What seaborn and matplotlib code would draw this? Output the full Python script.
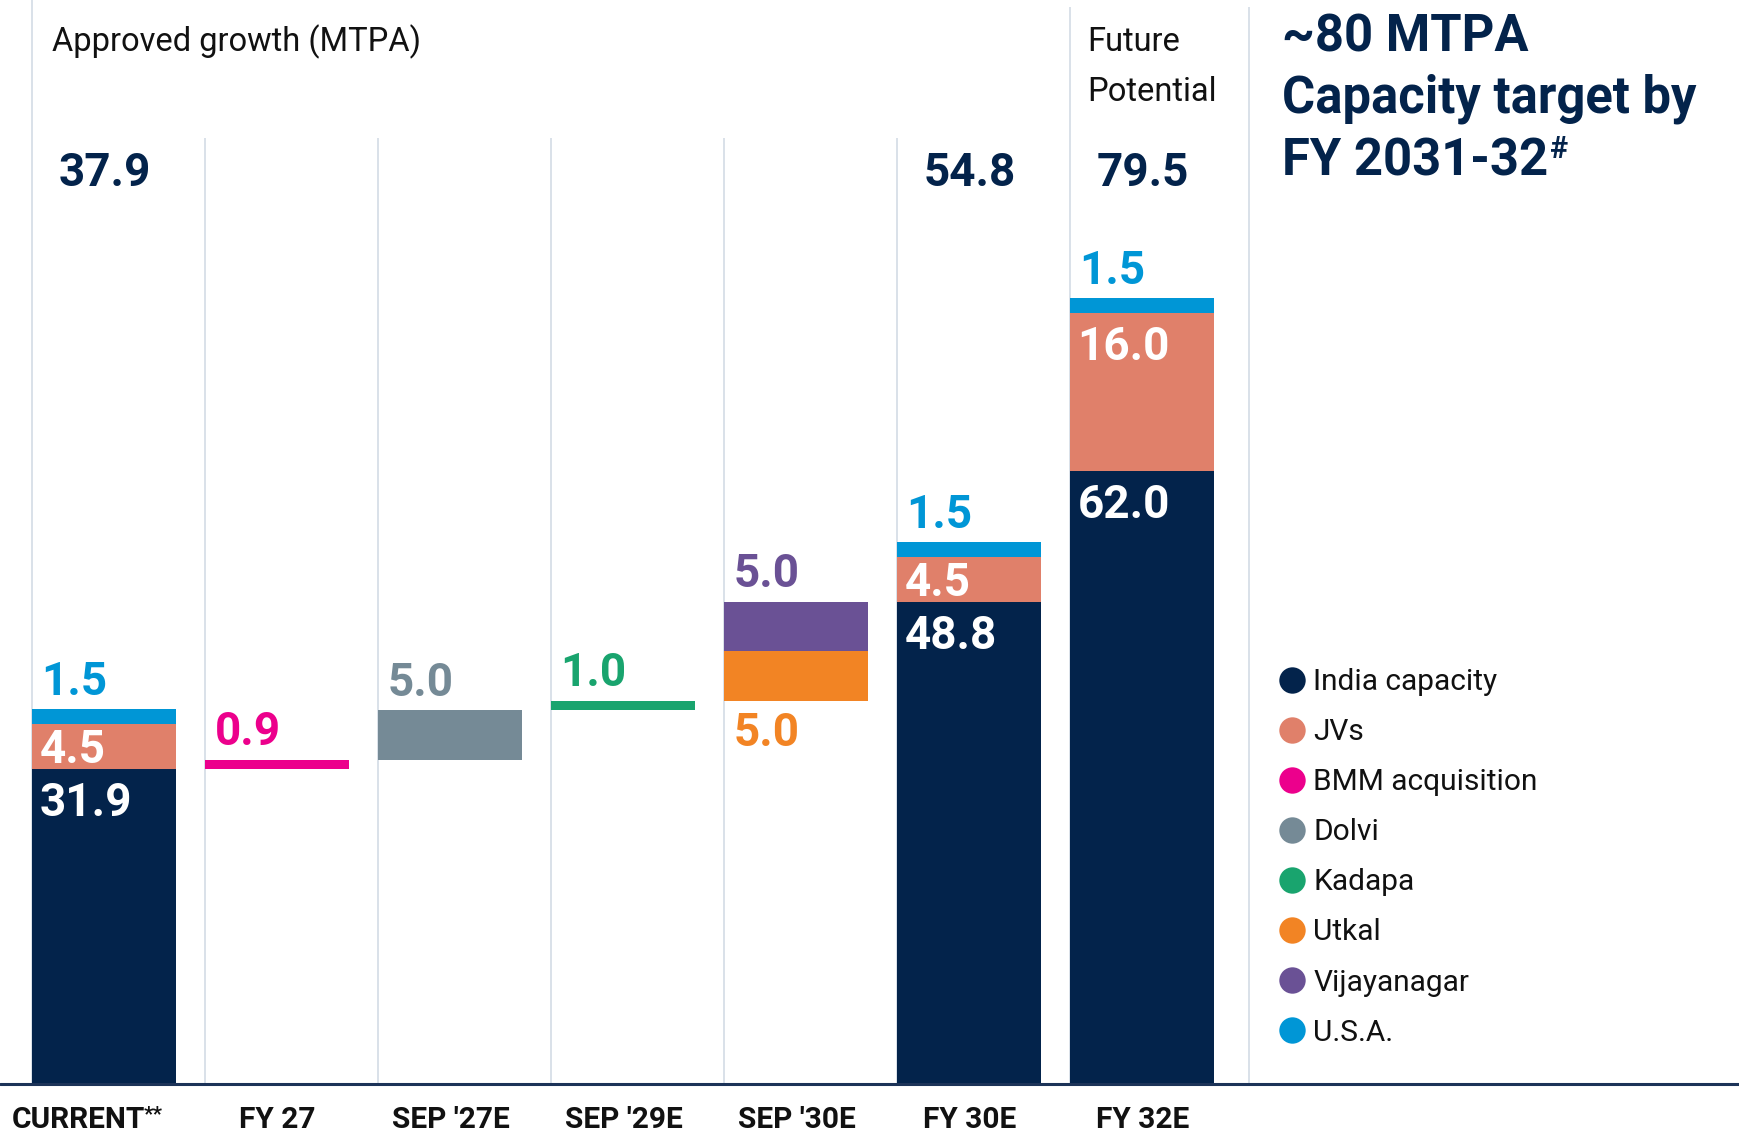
import matplotlib
matplotlib.use("Agg")
import matplotlib.pyplot as plt
import matplotlib.transforms as mtransforms
from matplotlib.lines import Line2D
import seaborn as sns
import pandas as pd

# values in MTPA
periods = ["CURRENT", "FY 27", "SEP '27E", "SEP '29E", "SEP '30E", "FY 30E", "FY 32E"]
segments = ["India capacity", "JVs", "BMM acquisition", "Dolvi", "Kadapa",
            "Utkal", "Vijayanagar", "U.S.A."]
seg_colors = ["#03234b", "#e0806a", "#ec008c", "#758a96", "#19a46e",
              "#f28424", "#6a5195", "#0096d6"]

india_capacity = [31.9, 0, 0, 0, 0, 48.8, 62.0]
jvs = [4.5, 0, 0, 0, 0, 4.5, 16.0]
bmm_acquisition = [0, 0.9, 0, 0, 0, 0, 0]
dolvi = [0, 0, 5.0, 0, 0, 0, 0]
kadapa = [0, 0, 0, 1.0, 0, 0, 0]
utkal = [0, 0, 0, 0, 5.0, 0, 0]
vijayanagar = [0, 0, 0, 0, 5.0, 0, 0]
usa = [1.5, 0, 0, 0, 0, 1.5, 1.5]

NAVY = "#03234b"
GRID = "#d3dce5"
BAR_W = 0.832
YMAX = 109.7

sns.set_style("white")
plt.rcParams["font.family"] = ["Roboto", "DejaVu Sans"]

# long table; growth steps sit on the running India level (waterfall)
series = [india_capacity, jvs, bmm_acquisition, dolvi, kadapa, utkal, vijayanagar, usa]
rows = []
level = india_capacity[0]
for i, p in enumerate(periods):
    stacked = india_capacity[i] > 0
    base = 0.0 if stacked else level
    for seg, vals in zip(segments, series):
        rows.append({"period": p, "segment": seg, "value": vals[i], "bottom": base})
        base += vals[i]
    if not stacked:
        level = base
df = pd.DataFrame(rows)

fig = plt.figure(figsize=(17.39, 11.36), dpi=100)
ax = fig.add_axes([0, 52 / 1136, 1, 1084 / 1136])

for seg, col in zip(segments, seg_colors):
    sub = df[df["segment"] == seg]
    sns.barplot(data=sub, x="period", y="value", order=periods, color=col,
                width=BAR_W, saturation=1, errorbar=None,
                bottom=sub["bottom"].to_numpy(), linewidth=0, ax=ax, zorder=2)

# column separators
seps = [k - BAR_W / 2 for k in range(len(periods))] + [len(periods) + 0.03 - BAR_W / 2]
tops = [YMAX] + [95.7] * 5 + [109.0, 109.0]
ax.vlines(seps, 0, tops, color=GRID, lw=1.2, zorder=1)
ax.axhline(0, color="#1c3358", lw=2.2, clip_on=False, zorder=3)

ax.set_xlim(-0.6036, 9.448)
ax.set_ylim(0, YMAX)
ax.set_xlabel("")
ax.set_ylabel("")
ax.set_yticks([])
ax.tick_params(axis="x", length=0, pad=16)
ax.set_xticks(range(len(periods)), labels=periods, fontsize=21.5,
              fontweight="bold", color="#111111")
for s in ax.spines.values():
    s.set_visible(False)

# CURRENT label sits left of centre, with a superscript **
cur = ax.get_xticklabels()[0]
cur.set_transform(cur.get_transform()
                  + mtransforms.ScaledTranslation(-0.26, 0, fig.dpi_scale_trans))
ax.annotate("**", xy=(1, 1), xycoords=cur, xytext=(-1, 1), textcoords="offset points",
            ha="left", va="top", fontsize=15, fontweight="bold", color="#111111")

# segment value labels
for i, p in enumerate(periods):
    left = i - BAR_W / 2
    for seg, col in zip(segments, seg_colors):
        r = df[(df["period"] == p) & (df["segment"] == seg)].iloc[0]
        v, bottom = r["value"], r["bottom"]
        if v == 0:
            continue
        top = bottom + v
        if seg in ("India capacity", "JVs"):
            y, tc, dx = top - min(4.76, v / 2 + 1.62), "white", 5
        elif seg == "Utkal":
            y, tc, dx = bottom - 4.55, col, 6.5
        else:
            y, tc, dx = top + 1.5, col, 6.5
        ax.annotate(f"{v:.1f}", xy=(left, y), xytext=(dx, 0), textcoords="offset points",
                    ha="left", va="baseline", color=tc, fontsize=33, fontweight="bold",
                    zorder=4)

# totals above stacked columns
tot = df.groupby("period", sort=False)["value"].sum()
for i, p in enumerate(periods):
    if india_capacity[i] > 0:
        ax.text(i, 90.9, f"{tot[p]:.1f}", ha="center", va="baseline", color=NAVY,
                fontsize=33, fontweight="bold")

# headers
def fy(px):
    return 1 - px / 1136

fig.text(52 / 1739, fy(51), "Approved growth (MTPA)", fontsize=23.5, color="#111111",
         va="baseline")
fig.text(1087 / 1739, fy(51), "Future", fontsize=23.5, color="#111111", va="baseline")
fig.text(1087 / 1739, fy(101), "Potential", fontsize=23.5, color="#111111", va="baseline")

for txt, b in [("~80 MTPA", 51), ("Capacity target by", 113), ("FY 2031-32", 176)]:
    t = fig.text(1282 / 1739, fy(b), txt, fontsize=36.5, fontweight="bold", color=NAVY,
                 va="baseline")
ax.annotate("#", xy=(1, 1), xycoords=t, xytext=(1, 2), textcoords="offset points",
            ha="left", va="top", fontsize=22, fontweight="bold", color=NAVY)

handles = [Line2D([], [], marker="o", linestyle="none", markersize=19,
                  markerfacecolor=c, markeredgewidth=0) for c in seg_colors]
fig.legend(handles, segments, loc="upper left",
           bbox_to_anchor=(1279 / 1739, fy(668)), frameon=False,
           prop={"family": "Roboto", "size": 21.5}, labelspacing=0.74,
           handlelength=0.85, handletextpad=0.3, borderpad=0, borderaxespad=0,
           labelcolor="#111111")

fig.savefig("out.png", dpi=100, facecolor="white")
